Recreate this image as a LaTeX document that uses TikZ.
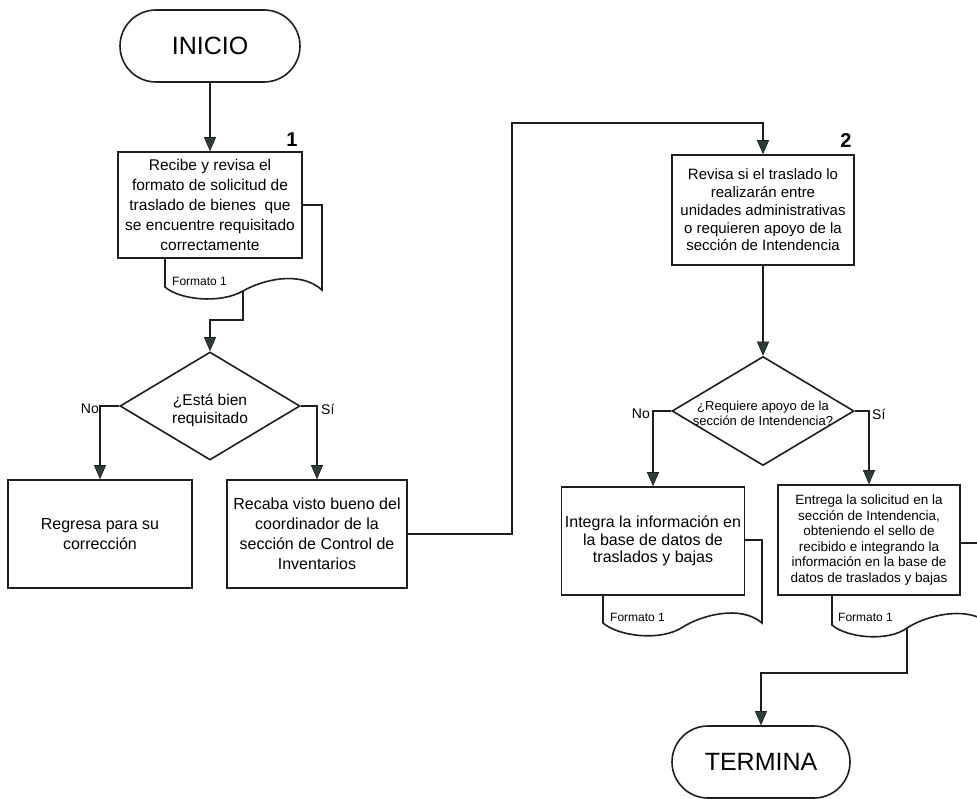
\documentclass[tikz,border=0pt]{standalone}
\usepackage{fontspec}
\setmainfont{Liberation Sans}
\usetikzlibrary{shapes.geometric,shapes.misc,arrows.meta}
\definecolor{ink}{HTML}{1E1E1E}
\definecolor{tipc}{HTML}{2E3B3B}
\begin{document}
\begin{tikzpicture}[x=1pt,y=-1pt,
  base/.style={draw=ink, line width=1.6pt, fill=white, inner sep=2pt, align=center},
  terminal/.style={base, rounded rectangle, minimum width=184pt, minimum height=72pt,
    font=\fontsize{25}{30}\selectfont},
  procbox/.style={base, rectangle, minimum height=108pt},
  decision/.style={base, diamond, inner sep=0pt},
  qtext/.style={align=center, inner sep=0pt},
  docline/.style={draw=ink, line width=1.6pt, fill=white},
  flow/.style={draw=ink, line width=1.6pt,
    -{Triangle[width=12pt,length=14pt,fill=tipc,line width=0.6pt]}},
  branch/.style={font=\fontsize{14}{16}\selectfont, inner sep=1pt},
  doclabel/.style={font=\fontsize{12}{14}\selectfont, anchor=west, inner sep=0pt},
  stepnum/.style={font=\bfseries\fontsize{20}{22}\selectfont, inner sep=0pt}
]
\useasboundingbox (0,0) rectangle (977,799);
\clip (0,0) rectangle (977,799);

% documents lying under the process boxes
\draw[docline] (165,258) -- (165,287)
  .. controls (180,300) and (220,304) .. (243,291)
  .. controls (262,280) and (300,270) .. (322,290) -- (322,205) -- (302,205);
\coordinate (d1out) at (243,291);
\node[doclabel] at (172,281) {Formato 1};

\draw[docline] (603,595) -- (603,623)
  .. controls (618,636) and (660,642) .. (683,627)
  .. controls (700,616) and (740,604) .. (762,623) -- (762,540) -- (745,540);
\node[doclabel] at (610,617) {Formato 1};

\draw[docline] (832,595) -- (832,625)
  .. controls (847,638) and (888,642) .. (907,628)
  .. controls (925,616) and (968,604) .. (991,625) -- (991,543) -- (960,543);
\coordinate (d4out) at (907,628);
\node[doclabel] at (838,617) {Formato 1};

% nodes
\node[terminal] (ini) at (210,46) {INICIO};

\node[procbox, minimum width=184pt, minimum height=106pt,
  font=\fontsize{15.5}{20}\selectfont] (b1) at (210,205)
  {Recibe y revisa el\\formato de solicitud de\\traslado de bienes\ \ que\\se encuentre requisitado\\correctamente};
\node[stepnum] (n1) at (292,140) {1};

\node[decision, minimum width=180pt, minimum height=108pt,
  label={[qtext, font=\fontsize{15.5}{18}\selectfont, yshift=-4pt]center:{¿Está bien\\requisitado}}]
  (q1) at (210,406) {};

\node[procbox, minimum width=184pt, font=\fontsize{16}{20}\selectfont] (r1) at (100,534)
  {Regresa para su\\corrección};
\node[procbox, minimum width=180pt, font=\fontsize{16}{20}\selectfont] (r2) at (317,534)
  {Recaba visto bueno del\\coordinador de la\\sección de Control de\\Inventarios};

\node[procbox, minimum width=182pt, minimum height=110pt,
  font=\fontsize{15}{17.7}\selectfont] (b2) at (763,210)
  {Revisa si el traslado lo\\realizarán entre\\unidades administrativas\\o requieren apoyo de la\\sección de Intendencia};
\node[stepnum] (n2) at (846,141) {2};

\node[decision, minimum width=182pt, minimum height=109pt,
  label={[qtext, font=\fontsize{13}{15}\selectfont, yshift=-2pt]center:{¿Requiere apoyo de la\\sección de Intendencia?}}]
  (q2) at (763,411) {};

\node[procbox, minimum width=183pt, font=\fontsize{16}{17.5}\selectfont] (r3) at (653,541)
  {Integra la información en\\la base de datos de\\traslados y bajas};
\node[procbox, minimum width=182pt, minimum height=110pt,
  font=\fontsize{13.5}{15.5}\selectfont] (r4) at (869,540)
  {Entrega la solicitud en la\\sección de Intendencia,\\obteniendo el sello de\\recibido e integrando la\\información en la base de\\datos de traslados y bajas};

\node[terminal, minimum width=182pt] (fin) at (761,762) {TERMINA};

% branch labels
\node[branch, anchor=north east] (no1) at (100,403) {No};
\node[branch, anchor=north west] (si1) at (320,403) {Sí};
\node[branch, anchor=north east] (no2) at (651,408) {No};
\node[branch, anchor=north west] (si2) at (871,408) {Sí};

% connectors
\coordinate (jog) at (512,123);
\draw[flow] (ini.south) -- (b1.north);
\draw[flow] (d1out) -- ++(0,29) -| (q1.north);
\draw[flow] (q1.west) -| (r1.north);
\draw[flow] (q1.east) -| (r2.north);
\draw[flow] (r2.east) -| (jog) -| (b2.north);
\draw[flow] (b2.south) -- (q2.north);
\draw[flow] (q2.west) -| (r3.north);
\draw[flow] (q2.east) -| (r4.north);
\draw[flow] (d4out) -- ++(0,45) -| (fin.north);
\end{tikzpicture}
\end{document}
